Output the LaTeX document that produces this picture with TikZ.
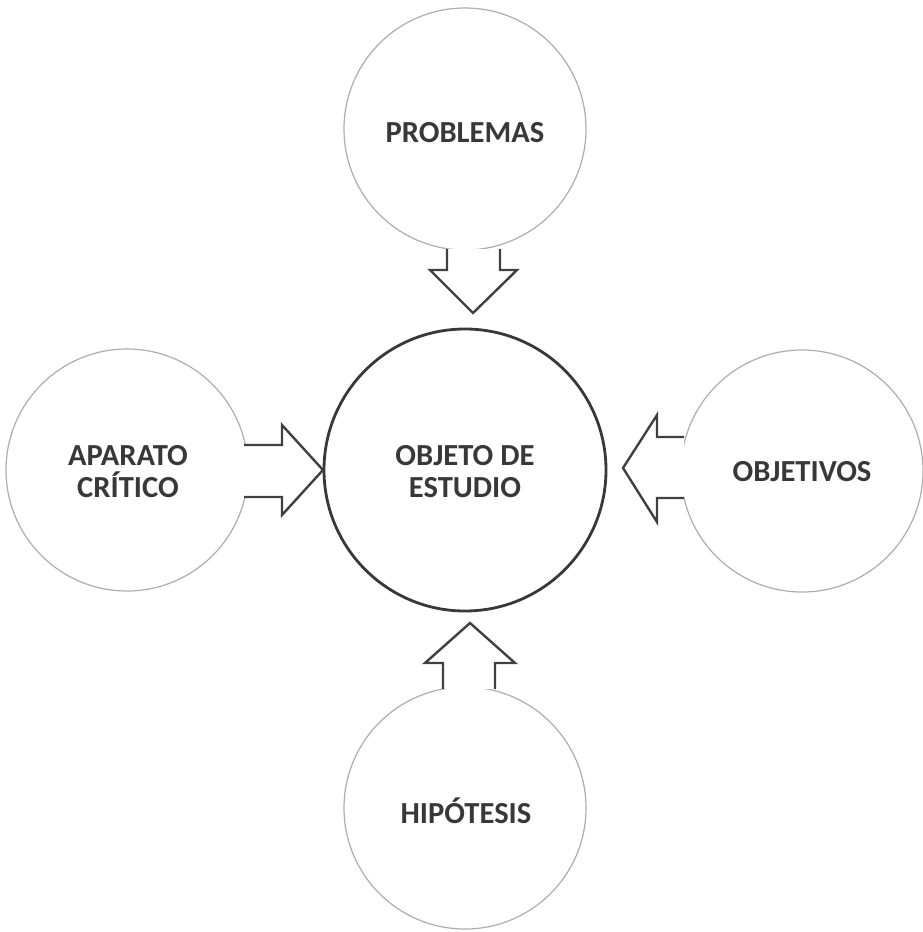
\documentclass[tikz,border=0pt]{standalone}
\usepackage{fontspec}
\setmainfont{Carlito}
\begin{document}
\begin{tikzpicture}[x=0.5pt,y=-0.5pt,
  outer/.style={circle,draw=black!32,line width=0.6pt,minimum size=121pt,inner sep=0pt},
  core/.style={circle,draw=black!78,line width=1.4pt,minimum size=141pt,inner sep=0pt},
  lbl/.style={text=black!78,font=\bfseries\fontsize{15.3}{16}\selectfont,align=center},
  blockarrow/.style={draw=black!75,line width=1.2pt,line join=miter,fill=white}]
\useasboundingbox (0,0) rectangle (922,932);
% circles
\node[core]  (obj)  at (465,470) {};
\node[outer] (prob) at (465,129) {};
\node[outer] (apar) at (127,470) {};
\node[outer] (objt) at (802,471) {};
\node[outer] (hipo) at (465,808) {};
% labels
\node[lbl] at (465,472) {OBJETO DE\\ESTUDIO};
\node[lbl] at (465,133) {PROBLEMAS};
\node[lbl] at (128,472) {APARATO\\CRÍTICO};
\node[lbl] at (802,472) {OBJETIVOS};
\node[lbl] at (466,811) {HIPÓTESIS};
% block arrows pointing into the central circle
\draw[blockarrow] (447,249) -- (447,270) -- (430,270) -- (473,313) -- (517,270) -- (500,270) -- (500,249);
\draw[blockarrow] (244,445) -- (282,445) -- (282,425) -- (323,470) -- (282,515) -- (282,497) -- (244,497);
\draw[blockarrow] (684,437) -- (657,437) -- (657,415) -- (623,468) -- (657,522) -- (657,498) -- (684,498);
\draw[blockarrow] (443,689) -- (443,663) -- (425,663) -- (470,623) -- (515,663) -- (495,663) -- (495,689);
\end{tikzpicture}
\end{document}
